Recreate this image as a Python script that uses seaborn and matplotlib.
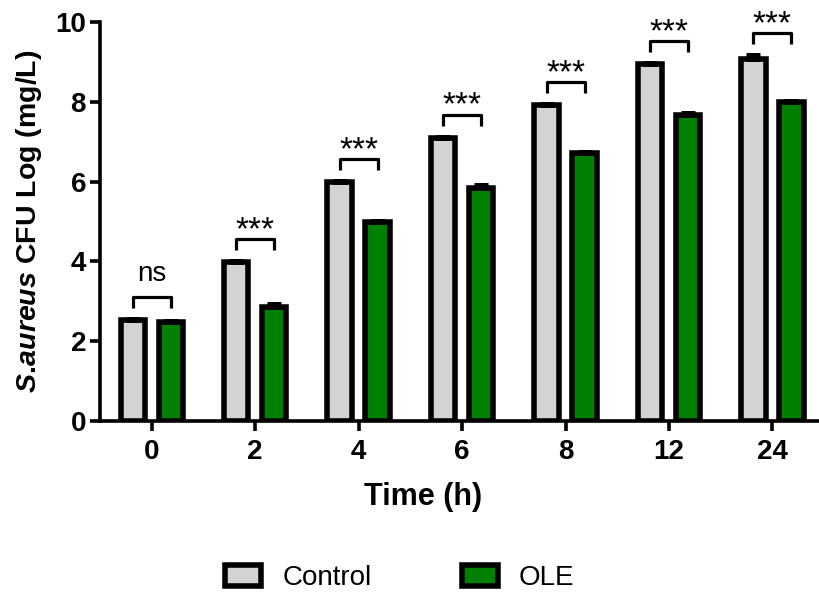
import numpy as np
import pandas as pd
import matplotlib
matplotlib.use("Agg")
import matplotlib.pyplot as plt
import seaborn as sns

times = ["0", "2", "4", "6", "8", "12", "24"]
control = [2.53, 3.99, 5.99, 7.10, 7.92, 8.94, 9.08]
control_err = [0.03, 0.03, 0.03, 0.03, 0.02, 0.03, 0.09]
ole = [2.47, 2.86, 4.99, 5.85, 6.72, 7.66, 7.99]
ole_err = [0.03, 0.08, 0.02, 0.07, 0.03, 0.05, 0.02]
signif = ["ns", "***", "***", "***", "***", "***", "***"]

df = pd.DataFrame({
    "Time": times * 2,
    "Group": ["Control"] * len(times) + ["OLE"] * len(times),
    "Value": control + ole,
})

sns.set_style("white")
plt.rcParams["font.family"] = ["Liberation Sans", "DejaVu Sans"]
plt.rcParams["mathtext.fontset"] = "custom"
plt.rcParams["mathtext.it"] = "Liberation Sans:italic:bold"
plt.rcParams["mathtext.rm"] = "Liberation Sans:bold"
plt.rcParams["text.color"] = "black"
plt.rcParams["axes.labelcolor"] = "black"
plt.rcParams["xtick.color"] = "black"
plt.rcParams["ytick.color"] = "black"
plt.rcParams["axes.edgecolor"] = "black"

fig = plt.figure(figsize=(8.19, 5.95), dpi=100)
ax = fig.add_axes([100 / 819, 1 - 421 / 595, 719 / 819, 399 / 595])

sns.barplot(data=df, x="Time", y="Value", hue="Group", order=times,
            palette={"Control": "#d3d3d3", "OLE": "#008000"}, saturation=1,
            width=0.735, gap=0.36, errorbar=None, edgecolor="black",
            linewidth=4, legend=False, ax=ax)

# upper-only error bars on the bars
for cont, errs in zip(ax.containers, [control_err, ole_err]):
    xs = [p.get_x() + p.get_width() / 2 for p in cont]
    hs = [p.get_height() for p in cont]
    ax.errorbar(xs, hs, yerr=[np.zeros(len(errs)), errs], fmt="none",
                ecolor="black", elinewidth=3.6, capsize=5, capthick=3.6,
                zorder=5)

# significance brackets
c_x = [p.get_x() + p.get_width() / 2 for p in ax.containers[0]]
o_x = [p.get_x() + p.get_width() / 2 for p in ax.containers[1]]
for i, lab in enumerate(signif):
    top = max(control[i] + control_err[i], ole[i] + ole_err[i]) + 0.55
    ax.plot([c_x[i], c_x[i], o_x[i], o_x[i]], [top - 0.28, top, top, top - 0.28],
            color="black", lw=2.3, solid_capstyle="butt", clip_on=False)
    if lab == "ns":
        ax.text((c_x[i] + o_x[i]) / 2, top + 0.25, lab, ha="center",
                va="bottom", fontsize=20, clip_on=False)
    else:
        ax.text((c_x[i] + o_x[i]) / 2, top - 0.18, lab, ha="center",
                va="bottom", fontsize=24, clip_on=False)

ax.set_xlim(-0.5, 6.45)
ax.set_ylim(0, 10)
ax.set_yticks([0, 2, 4, 6, 8, 10])
sns.despine(ax=ax)
for s in ["left", "bottom"]:
    ax.spines[s].set_linewidth(2.6)
ax.tick_params(axis="both", length=7, width=2.6, labelsize=20,
               left=True, bottom=True)
ax.tick_params(axis="x", pad=6)
ax.tick_params(axis="y", pad=3)
for t in ax.get_xticklabels() + ax.get_yticklabels():
    t.set_fontweight("bold")

ax.set_xlabel("Time (h)", fontsize=22, fontweight="bold")
ax.xaxis.set_label_coords(0.449, -0.152)
ax.set_ylabel(r"$\mathit{S.\!aureus}$ CFU Log (mg/L)", fontsize=20.5,
              fontweight="bold", labelpad=8)

handles = [ax.containers[0][0], ax.containers[1][0]]
fig.legend(handles, ["Control", "OLE"], loc="lower center",
           bbox_to_anchor=(0.488, -0.035), ncol=2, frameon=False, fontsize=20,
           handlelength=1.3, handleheight=0.8, handletextpad=0.75,
           columnspacing=3.25)

fig.savefig("out.png", dpi=100)
